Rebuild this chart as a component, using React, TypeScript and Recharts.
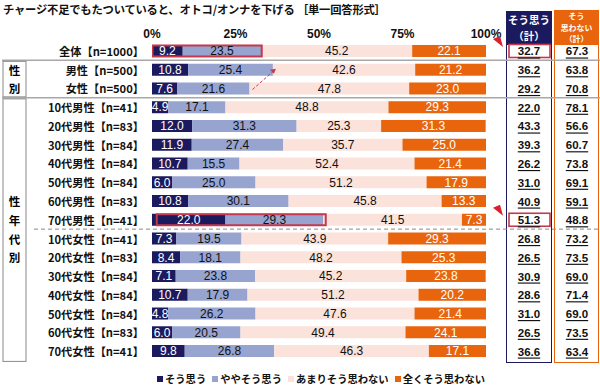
import React from "react";
import { BarChart, Bar, XAxis, YAxis, LabelList } from "recharts";

const title = "チャージ不足でもたついていると、オトコ/オンナを下げる ［単一回答形式］";

const categories = [
  "全体【n=1000】",
  "男性【n=500】",
  "女性【n=500】",
  "10代男性【n=41】",
  "20代男性【n=83】",
  "30代男性【n=84】",
  "40代男性【n=84】",
  "50代男性【n=84】",
  "60代男性【n=83】",
  "70代男性【n=41】",
  "10代女性【n=41】",
  "20代女性【n=83】",
  "30代女性【n=84】",
  "40代女性【n=84】",
  "50代女性【n=84】",
  "60代女性【n=83】",
  "70代女性【n=41】",
];

const seriesNames = ["そう思う", "ややそう思う", "あまりそう思わない", "全くそう思わない"];
const agreeStrong = [9.2, 10.8, 7.6, 4.9, 12.0, 11.9, 10.7, 6.0, 10.8, 22.0, 7.3, 8.4, 7.1, 10.7, 4.8, 6.0, 9.8];
const agreeSome = [23.5, 25.4, 21.6, 17.1, 31.3, 27.4, 15.5, 25.0, 30.1, 29.3, 19.5, 18.1, 23.8, 17.9, 26.2, 20.5, 26.8];
const disagreeSome = [45.2, 42.6, 47.8, 48.8, 25.3, 35.7, 52.4, 51.2, 45.8, 41.5, 43.9, 48.2, 45.2, 51.2, 47.6, 49.4, 46.3];
const disagreeStrong = [22.1, 21.2, 23.0, 29.3, 31.3, 25.0, 21.4, 17.9, 13.3, 7.3, 29.3, 25.3, 23.8, 20.2, 21.4, 24.1, 17.1];
const agreeTotal = [32.7, 36.2, 29.2, 22.0, 43.3, 39.3, 26.2, 31.0, 40.9, 51.3, 26.8, 26.5, 30.9, 28.6, 31.0, 26.5, 36.6];
const disagreeTotal = [67.3, 63.8, 70.8, 78.1, 56.6, 60.7, 73.8, 69.1, 59.1, 48.8, 73.2, 73.5, 69.0, 71.4, 69.0, 73.5, 63.4];
const xTicks = [0, 25, 50, 75, 100];
const highlighted = [0, 9];
const agreeHeader = ["そう思う", "（計）"];
const disagreeHeader = ["そう", "思わない", "（計）"];

const colors = ["#1c1a5e", "#98a4d0", "#fbe2da", "#e8650e"];
const RED = "#c23a4c";

// layout
const W = 600;
const H = 391;
const PLOT_TOP = 41.6;
const PLOT_BOTTOM = 360.4;
const STEP = (PLOT_BOTTOM - PLOT_TOP) / categories.length;
const NUM_FONT = "'Liberation Sans', Arial, sans-serif";
const JP_FONT = "'Noto Sans CJK JP', 'Noto Sans', sans-serif";

const data = categories.map((name, i) => ({
  name,
  s1: agreeStrong[i],
  s2: agreeSome[i],
  s3: disagreeSome[i],
  s4: disagreeStrong[i],
}));

const fmt = (v: any) => Number(v).toFixed(1);

function LeftTick(props: any) {
  const { x, y, payload, index } = props;
  const top = y - STEP / 2;
  const bottom = y + STEP / 2;
  const parts: React.ReactNode[] = [];
  if (index === 1) {
    parts.push(<line key="sep1" x1={2} x2={W} y1={top} y2={top} stroke="#a8a8a8" strokeWidth={1.5} />);
    parts.push(<rect key="box1" x={3} y={top + 1} width={23} height={STEP * 2 - 2} fill="none" stroke="#8a8a8a" />);
    parts.push(<text key="g1" x={14.5} y={y} textAnchor="middle" dominantBaseline="central" fontSize={11.5} fontWeight={700} fontFamily={JP_FONT}>性</text>);
  }
  if (index === 2) {
    parts.push(<text key="g2" x={14.5} y={y} textAnchor="middle" dominantBaseline="central" fontSize={11.5} fontWeight={700} fontFamily={JP_FONT}>別</text>);
  }
  if (index === 3) {
    parts.push(<line key="sep2" x1={2} x2={W} y1={top} y2={top} stroke="#a8a8a8" strokeWidth={1.5} />);
    parts.push(<rect key="box2" x={3} y={top + 1} width={23} height={STEP * 14} fill="none" stroke="#8a8a8a" />);
  }
  if (index >= 8 && index <= 11) {
    parts.push(
      <text key="g3" x={14.5} y={y} textAnchor="middle" dominantBaseline="central" fontSize={11.5} fontWeight={700} fontFamily={JP_FONT}>
        {"性年代別"[index - 8]}
      </text>
    );
  }
  if (index === 9) {
    parts.push(<line key="dash" x1={34} x2={W} y1={bottom} y2={bottom} stroke="#8a8a8a" strokeWidth={1} strokeDasharray="4 3" />);
  }
  if (highlighted.includes(index)) {
    parts.push(<rect key="hb" x={509} y={y - 6.5} width={41} height={13} fill="none" stroke={RED} strokeWidth={1.6} />);
    parts.push(<polygon key="tri" points={`${493},${y - 12} ${500},${y - 15} ${503},${y - 4}`} fill="#d8202e" />);
  }
  return (
    <g>
      {parts}
      <text x={x + 1} y={y} textAnchor="end" dominantBaseline="central" fontSize={11.2} fontWeight={700} fontFamily={JP_FONT} fill="#111">
        {payload.value}
      </text>
      <text x={529} y={y + 0.5} textAnchor="middle" dominantBaseline="central" fontSize={11.5} fontWeight={700} fontFamily={NUM_FONT} textDecoration="underline" fill="#111">
        {fmt(agreeTotal[index])}
      </text>
      <text x={577} y={y + 0.5} textAnchor="middle" dominantBaseline="central" fontSize={11.5} fontWeight={700} fontFamily={NUM_FONT} textDecoration="underline" fill="#111">
        {fmt(disagreeTotal[index])}
      </text>
    </g>
  );
}

function LastShape(props: any) {
  const { x, y, width, height, fill, payload, index } = props;
  const ratio = payload.s4 ? width / payload.s4 : 0;
  const x0 = x - (payload.s1 + payload.s2 + payload.s3) * ratio;
  const cy = y + height / 2;
  const maleEnd = x0 + (agreeStrong[1] + agreeSome[1]) * ratio;
  return (
    <g>
      <rect x={x} y={y} width={width} height={height} fill={fill} />
      {highlighted.includes(index) && (
        <rect x={x0 + 0.5} y={y + 0.5} width={(payload.s1 + payload.s2) * ratio} height={height - 1} fill="none" stroke={RED} strokeWidth={2} />
      )}
      {index === 2 && (
        <g>
          <line
            x1={x0 + (payload.s1 + payload.s2) * ratio + 3}
            y1={cy + 1}
            x2={maleEnd + 1}
            y2={cy - STEP + 1}
            stroke={RED}
            strokeWidth={1}
            strokeDasharray="3 2"
          />
          <polygon points={`${maleEnd + 3},${cy - STEP - 1} ${maleEnd - 3},${cy - STEP} ${maleEnd + 1},${cy - STEP + 4}`} fill={RED} />
        </g>
      )}
    </g>
  );
}

const headerLine = (lh: number): React.CSSProperties => ({ display: "block", height: lh, lineHeight: `${lh}px` });

export default function App() {
  return (
    <div style={{ position: "absolute", left: 0, top: 0, width: W, height: H, background: "#fff", fontFamily: JP_FONT }}>
      <div style={{ position: "absolute", left: 3, top: 1, fontSize: 11.3, fontWeight: 700, color: "#111", whiteSpace: "nowrap", letterSpacing: -0.2 }}>
        {title}
      </div>

      {/* total columns */}
      <div style={{ position: "absolute", left: 506, top: 12, width: 44, height: 349, border: `1px solid ${colors[0]}` }} />
      <div style={{ position: "absolute", left: 506, top: 11, width: 46, height: 34, background: colors[0], color: "#fff", fontSize: 10.5, fontWeight: 700, textAlign: "center", paddingTop: 1, boxSizing: "border-box" }}>
        {agreeHeader.map((t) => (
          <span key={t} style={headerLine(15.5)}>{t}</span>
        ))}
      </div>
      <div style={{ position: "absolute", left: 554, top: 12, width: 43, height: 349, border: `1px solid ${colors[3]}` }} />
      <div style={{ position: "absolute", left: 554, top: 10, width: 45, height: 35, background: colors[3], color: "#fff", fontSize: 7.9, fontWeight: 700, textAlign: "center", boxSizing: "border-box" }}>
        {disagreeHeader.map((t) => (
          <span key={t} style={headerLine(11.6)}>{t}</span>
        ))}
      </div>

      <div style={{ position: "absolute", left: 0, top: 0 }}>
        <BarChart
          width={W}
          height={H}
          data={data}
          layout="vertical"
          margin={{ top: PLOT_TOP - 20, right: 114, bottom: H - PLOT_BOTTOM, left: 0 }}
          barCategoryGap="18%"
        >
          <XAxis
            type="number"
            orientation="top"
            domain={[0, 100]}
            ticks={xTicks}
            allowDataOverflow
            height={20}
            axisLine={false}
            tickLine={false}
            tickSize={0}
            tickMargin={4}
            tickFormatter={(v) => `${v}%`}
            tick={{ fontSize: 12, fontWeight: 700, fill: "#111", fontFamily: NUM_FONT }}
          />
          <YAxis
            type="category"
            dataKey="name"
            width={152}
            axisLine={false}
            tickLine={false}
            tickSize={0}
            tickMargin={9}
            interval={0}
            tick={<LeftTick />}
          />
          <Bar dataKey="s1" stackId="a" fill={colors[0]} isAnimationActive={false}>
            <LabelList dataKey="s1" position="center" fill="#fff" fontSize={12} fontFamily={NUM_FONT} formatter={fmt} />
          </Bar>
          <Bar dataKey="s2" stackId="a" fill={colors[1]} isAnimationActive={false}>
            <LabelList dataKey="s2" position="center" fill="#111" fontSize={12} fontFamily={NUM_FONT} formatter={fmt} />
          </Bar>
          <Bar dataKey="s3" stackId="a" fill={colors[2]} isAnimationActive={false}>
            <LabelList dataKey="s3" position="center" fill="#111" fontSize={12} fontFamily={NUM_FONT} formatter={fmt} />
          </Bar>
          <Bar dataKey="s4" stackId="a" fill={colors[3]} isAnimationActive={false} shape={<LastShape />}>
            <LabelList dataKey="s4" position="center" fill="#fff" fontSize={12} fontFamily={NUM_FONT} formatter={fmt} />
          </Bar>
        </BarChart>
      </div>

      {/* legend */}
      <div style={{ position: "absolute", left: 157, top: 371, display: "flex", gap: 6, fontSize: 10.3, fontWeight: 700, color: "#111", whiteSpace: "nowrap" }}>
        {seriesNames.map((n, i) => (
          <span key={n} style={{ display: "flex", alignItems: "center" }}>
            <span style={{ display: "inline-block", width: 6, height: 6, background: colors[i], marginRight: 2 }} />
            {n}
          </span>
        ))}
      </div>
    </div>
  );
}
